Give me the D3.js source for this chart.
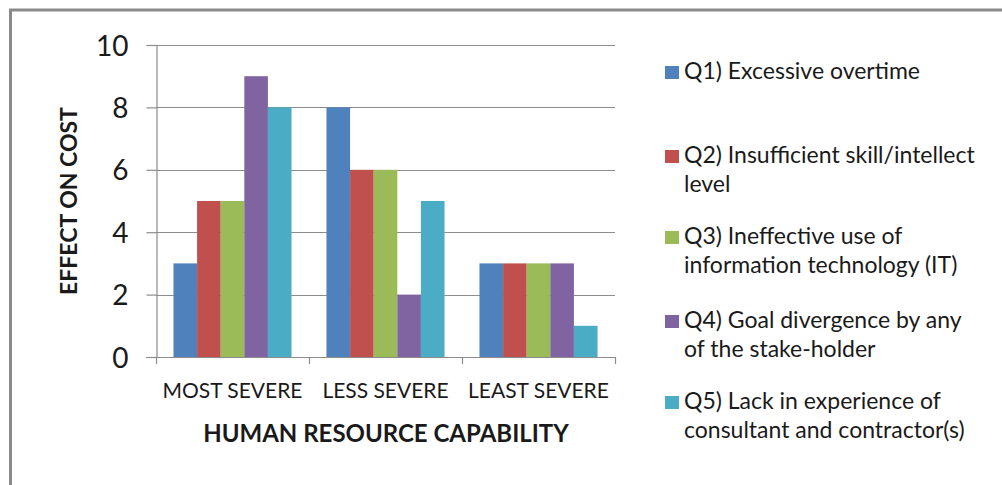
<!DOCTYPE html>
<html>
<head>
<meta charset="utf-8">
<script src="https://cdn.jsdelivr.net/npm/d3@7"></script>
<style>
  html, body { margin: 0; padding: 0; background: #fff; }
  svg { display: block; }
  text { font-family: Lato, "Open Sans", sans-serif; fill: #1a1a1a; }
</style>
</head>
<body>
<svg id="chart" width="1002" height="485"></svg>
<script>
// Categories along the x axis
const categories = ["MOST SEVERE", "LESS SEVERE", "LEAST SEVERE"];
// Series names (legend labels, may wrap onto two lines)
const seriesNames = [
  ["Q1) Excessive overtime"],
  ["Q2) Insufficient skill/intellect", "level"],
  ["Q3) Ineffective use of", "information technology (IT)"],
  ["Q4) Goal divergence by any", "of the stake-holder"],
  ["Q5) Lack in experience of", "consultant and contractor(s)"]
];
// Values per series, one per category
const q1 = [3, 8, 3];
const q2 = [5, 6, 3];
const q3 = [5, 6, 3];
const q4 = [9, 2, 3];
const q5 = [8, 5, 1];
const seriesValues = [q1, q2, q3, q4, q5];
const yTicks = [0, 2, 4, 6, 8, 10];
const colors = ["#4F81BD", "#C0504D", "#9BBB59", "#8064A2", "#4BACC6"];

const svg = d3.select("#chart");

// Outer frame (top and left edges)
svg.append("line").attr("x1", 9).attr("x2", 1002).attr("y1", 10).attr("y2", 10)
  .attr("stroke", "#8a8a8a").attr("stroke-width", 3);
svg.append("line").attr("x1", 10.5).attr("x2", 10.5).attr("y1", 9).attr("y2", 485)
  .attr("stroke", "#8a8a8a").attr("stroke-width", 3);

const plot = { left: 156, right: 615, top: 45, bottom: 357 };

const y = d3.scaleLinear().domain([0, 10]).range([plot.bottom, plot.top]);
const x0 = d3.scaleBand().domain(categories).range([plot.left, plot.right]).padding(0);
const x1 = d3.scaleBand().domain(d3.range(seriesValues.length))
  .range([0, x0.bandwidth()]).paddingOuter(0.74).paddingInner(0);

// Horizontal gridlines
svg.append("g").selectAll("line")
  .data(yTicks.filter(d => d > 0))
  .join("line")
  .attr("x1", plot.left).attr("x2", plot.right)
  .attr("y1", d => Math.round(y(d)) + 0.5).attr("y2", d => Math.round(y(d)) + 0.5)
  .attr("stroke", "#8c8c8c").attr("stroke-width", 1.2);

// Bars
const groups = svg.append("g").selectAll("g")
  .data(categories)
  .join("g")
  .attr("transform", d => `translate(${x0(d)},0)`);

groups.selectAll("rect")
  .data((c, ci) => seriesValues.map((vals, si) => ({ si, v: vals[ci] })))
  .join("rect")
  .attr("x", d => x1(d.si))
  .attr("width", x1.bandwidth())
  .attr("y", d => y(d.v))
  .attr("height", d => y(0) - y(d.v))
  .attr("fill", d => colors[d.si]);

// Y axis
const yAxis = svg.append("g")
  .attr("transform", `translate(${plot.left + 0.5},0)`)
  .call(d3.axisLeft(y).tickValues(yTicks).tickSize(10).tickPadding(18).tickFormat(d3.format("d")));
yAxis.select(".domain").attr("stroke", "#8c8c8c").attr("stroke-width", 1.2);
yAxis.selectAll(".tick line").attr("stroke", "#8c8c8c").attr("stroke-width", 1.2);
yAxis.selectAll(".tick text")
  .style("font-size", "28px").style("fill", "#1a1a1a").attr("dy", "0.36em");

// X axis (baseline with boundary tick marks)
const xBoundaries = categories.map(c => x0(c)).concat([plot.right]);
svg.append("line")
  .attr("x1", plot.left - 10).attr("x2", plot.right)
  .attr("y1", plot.bottom + 0.5).attr("y2", plot.bottom + 0.5)
  .attr("stroke", "#8c8c8c").attr("stroke-width", 1.2);
svg.append("g").selectAll("line")
  .data(xBoundaries)
  .join("line")
  .attr("x1", d => d + 0.5).attr("x2", d => d + 0.5)
  .attr("y1", plot.bottom).attr("y2", plot.bottom + 7)
  .attr("stroke", "#8c8c8c").attr("stroke-width", 1.2);

// Category labels
svg.append("g").selectAll("text")
  .data(categories)
  .join("text")
  .attr("x", d => x0(d) + x0.bandwidth() / 2)
  .attr("y", 398)
  .attr("text-anchor", "middle")
  .style("font-size", "21px")
  .text(d => d);

// Axis titles
svg.append("text")
  .attr("x", 386)
  .attr("y", 442)
  .attr("text-anchor", "middle")
  .style("font-size", "24px").style("font-weight", "bold")
  .text("HUMAN RESOURCE CAPABILITY");

svg.append("text")
  .attr("transform", `translate(77,201) rotate(-90)`)
  .attr("text-anchor", "middle")
  .style("font-size", "23px").style("font-weight", "bold")
  .text("EFFECT ON COST");

// Legend
const legendBaselines = [79, 163, 244, 328, 409];
const legend = svg.append("g").selectAll("g")
  .data(seriesNames)
  .join("g");
legend.append("rect")
  .attr("x", 665).attr("y", (d, i) => legendBaselines[i] - 13)
  .attr("width", 14).attr("height", 13)
  .attr("fill", (d, i) => colors[i]);
legend.append("text")
  .attr("x", 684)
  .attr("y", (d, i) => legendBaselines[i])
  .style("font-size", "23px")
  .selectAll("tspan")
  .data(d => d)
  .join("tspan")
  .attr("x", 684)
  .attr("dy", (d, j) => j === 0 ? 0 : 29)
  .text(d => d);
</script>
</body>
</html>
